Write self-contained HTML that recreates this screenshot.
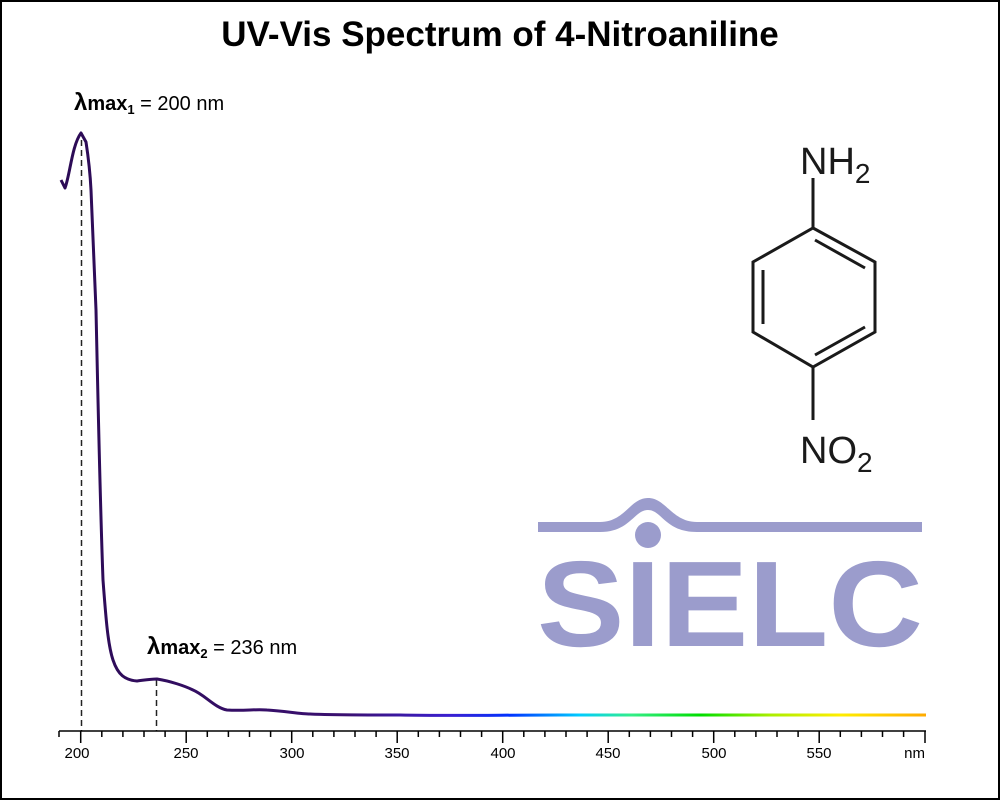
<!DOCTYPE html>
<html><head><meta charset="utf-8"><style>
html,body{margin:0;padding:0;background:#fff}
svg{display:block}
text{font-family:"Liberation Sans",Arial,sans-serif}
</style></head><body>
<svg width="1000" height="800" viewBox="0 0 1000 800" xmlns="http://www.w3.org/2000/svg">
<defs>
<linearGradient id="sp" gradientUnits="userSpaceOnUse" x1="60" y1="0" x2="926" y2="0">
<stop offset="0" stop-color="#2c0b55"/>
<stop offset="0.33" stop-color="#3a1070"/>
<stop offset="0.45" stop-color="#3a1fd0"/>
<stop offset="0.52" stop-color="#0033ff"/>
<stop offset="0.6" stop-color="#00ccff"/>
<stop offset="0.66" stop-color="#33ee88"/>
<stop offset="0.74" stop-color="#00dd00"/>
<stop offset="0.82" stop-color="#aaee00"/>
<stop offset="0.9" stop-color="#ffee00"/>
<stop offset="1" stop-color="#ffaa00"/>
</linearGradient>
</defs>
<rect x="1" y="1" width="998" height="798" fill="#fff" stroke="#000" stroke-width="2"/>
<text x="500" y="46" text-anchor="middle" font-size="35" font-weight="bold">UV-Vis Spectrum of 4-Nitroaniline</text>

<!-- logo -->
<g fill="#9b9ccc">
<path d="M538 522 L600 522 C625 522 630 498 648 498 C666 498 672 522 697 522 L922 522 L922 532 L697 532 C665 532 662 510 648 510 C634 510 630 532 600 532 L538 532 Z"/>
<circle cx="648" cy="535" r="13"/>
<text x="537" y="646" font-size="122" font-weight="bold" textLength="386" lengthAdjust="spacingAndGlyphs">SIELC</text>
</g>

<!-- molecule -->
<g stroke="#1a1a1a" stroke-width="3" fill="none">
<path d="M813 228 L875 262 L875 332 L813 367 L753 332 L753 262 Z"/>
<path d="M813 178 L813 228"/>
<path d="M813 367 L813 420"/>
<path d="M763 270 L763 324"/>
<path d="M815 240 L865 268"/>
<path d="M815 355 L865 327"/>
</g>
<text x="800" y="174" font-size="38" fill="#1a1a1a">NH<tspan font-size="28" dy="9">2</tspan></text>
<text x="800" y="463" font-size="38" fill="#1a1a1a">NO<tspan font-size="28" dy="9">2</tspan></text>

<!-- dashed -->
<g stroke="#222" stroke-width="1.5" stroke-dasharray="6,4">
<line x1="81.5" y1="140" x2="81.5" y2="731"/>
<line x1="156.5" y1="680" x2="156.5" y2="731"/>
</g>

<!-- curve -->
<path d="M61 180 L65 188 C70 175 72 145 81 133 L86 142 C88 155 90 170 91 190 C93 230 94 270 96 310 C98 400 100 500 103 580 C106 620 108 645 113 660 C118 675 125 680 137 681 C145 680 150 679 157 679 C170 681 185 686 193 690 C205 695 215 708 227 710 C245 711 255 709 267 710 C285 711 300 714 310 714 C330 715 360 715 400 715 C450 716 500 715 560 715 C650 715 750 715 926 715" fill="none" stroke="url(#sp)" stroke-width="3" stroke-linejoin="round"/>

<!-- axis -->
<g stroke="#000" stroke-width="1.5">
<line x1="59" y1="731" x2="926" y2="731"/>
<path d="M59 731v6M80.7 731v12M101.8 731v6M122.9 731v6M144 731v6M165.1 731v6M186.2 731v12M207.3 731v6M228.4 731v6M249.5 731v6M270.6 731v6M291.7 731v12M312.8 731v6M333.9 731v6M355 731v6M376.1 731v6M397.2 731v12M418.3 731v6M439.4 731v6M460.5 731v6M481.6 731v6M502.7 731v12M523.8 731v6M544.9 731v6M566 731v6M587.1 731v6M608.2 731v12M629.3 731v6M650.4 731v6M671.5 731v6M692.6 731v6M713.7 731v12M734.8 731v6M755.9 731v6M777 731v6M798.1 731v6M819.2 731v12M840.3 731v6M861.4 731v6M882.5 731v6M903.6 731v6M925 731v12"/>
</g>
<g font-size="15" text-anchor="middle">
<text x="77" y="758">200</text>
<text x="186" y="758">250</text>
<text x="292" y="758">300</text>
<text x="397" y="758">350</text>
<text x="503" y="758">400</text>
<text x="608" y="758">450</text>
<text x="714" y="758">500</text>
<text x="819" y="758">550</text>
<text x="925" y="758" text-anchor="end">nm</text>
</g>

<text x="74" y="110" font-size="20"><tspan font-weight="bold" font-size="24">λ</tspan><tspan font-weight="bold">max</tspan><tspan font-weight="bold" font-size="13" dy="4">1</tspan><tspan dy="-4"> = 200 nm</tspan></text>
<text x="147" y="654" font-size="20"><tspan font-weight="bold" font-size="24">λ</tspan><tspan font-weight="bold">max</tspan><tspan font-weight="bold" font-size="13" dy="4">2</tspan><tspan dy="-4"> = 236 nm</tspan></text>
</svg>
</body></html>
